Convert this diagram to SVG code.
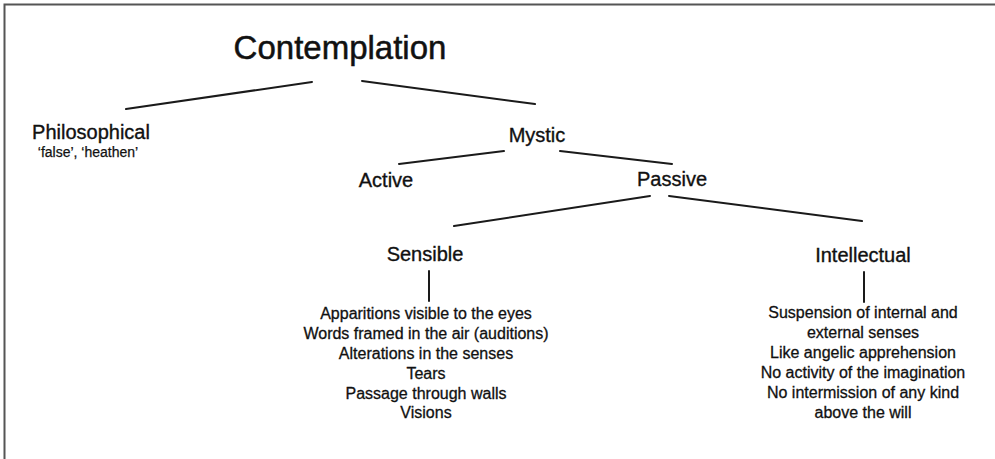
<svg xmlns="http://www.w3.org/2000/svg" width="995" height="459" viewBox="0 0 995 459">
<style>
.t{font-family:"Liberation Sans",Arial,sans-serif;fill:#111;text-anchor:middle;stroke:#111;stroke-width:0.35}
.h1{font-size:33px;stroke-width:0.5}
.h2{font-size:20px}
.sm{font-size:14px;stroke-width:0.25}
.li{font-size:16px;stroke-width:0.3}
.c line{stroke:#1a1a1a;stroke-width:2;stroke-linecap:round}
</style>
<rect x="0" y="0" width="995" height="459" fill="#fff"/>
<path d="M4.5 459V4.5H995" fill="none" stroke="#555" stroke-width="2"/>
<g class="c" id="connectors">
<line x1="312" y1="82" x2="126" y2="109"/>
<line x1="362" y1="81" x2="535" y2="104"/>
<line x1="504" y1="151" x2="399" y2="164"/>
<line x1="560" y1="151" x2="672" y2="164"/>
<line x1="650" y1="196" x2="454" y2="226"/>
<line x1="669" y1="196" x2="862" y2="221"/>
<line x1="429" y1="271" x2="429" y2="301"/>
<line x1="864" y1="272" x2="864" y2="302"/>
</g>
<g id="contemplation"><text class="t h1" x="340" y="59">Contemplation</text></g>
<g id="philosophical"><text class="t h2" x="91" y="139">Philosophical</text>
<text class="t sm" x="88" y="157">‘false’, ‘heathen’</text></g>
<g id="mystic"><text class="t h2" x="537" y="142">Mystic</text></g>
<g id="active"><text class="t h2" x="386" y="187">Active</text></g>
<g id="passive"><text class="t h2" x="672" y="186">Passive</text></g>
<g id="sensible"><text class="t h2" x="425" y="261">Sensible</text></g>
<g id="intellectual"><text class="t h2" x="863" y="262">Intellectual</text></g>
<g id="sensible-list">
<text class="t li" x="426" y="319">Apparitions visible to the eyes</text>
<text class="t li" x="426" y="339">Words framed in the air (auditions)</text>
<text class="t li" x="426" y="359">Alterations in the senses</text>
<text class="t li" x="426" y="379">Tears</text>
<text class="t li" x="426" y="399">Passage through walls</text>
<text class="t li" x="426" y="418">Visions</text>
</g>
<g id="intellectual-list">
<text class="t li" x="863" y="318">Suspension of internal and</text>
<text class="t li" x="863" y="338">external senses</text>
<text class="t li" x="863" y="358">Like angelic apprehension</text>
<text class="t li" x="863" y="378">No activity of the imagination</text>
<text class="t li" x="863" y="398">No intermission of any kind</text>
<text class="t li" x="863" y="418">above the will</text>
</g>
</svg>
